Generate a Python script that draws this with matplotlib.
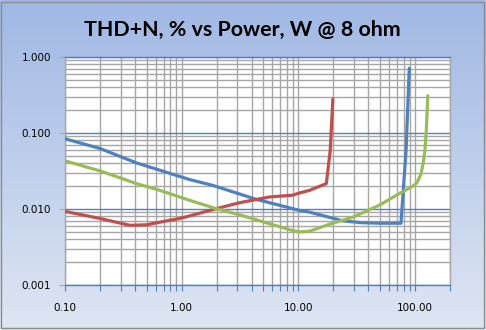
import matplotlib.pyplot as plt
import numpy as np
from matplotlib.ticker import FixedLocator, NullFormatter
from matplotlib.patches import Rectangle

# power, W  /  THD+N, %
blue_w = [0.1, 0.2, 0.41, 0.65, 1.17, 1.84, 4.36, 6.9, 10.2, 12.5, 24, 35, 50, 76, 84, 89.5]
blue_thd = [0.084, 0.0625, 0.0404, 0.0324, 0.0244, 0.0205, 0.0134, 0.0112, 0.0096, 0.0091,
            0.0070, 0.0066, 0.0065, 0.0065, 0.059, 0.71]

red_w = [0.1, 0.2, 0.36, 0.5, 0.79, 0.96, 1.17, 1.98, 3.14, 5.67, 8.98, 9.9, 12.5, 17.4, 18.8, 19.8]
red_thd = [0.0093, 0.0075, 0.0061, 0.0062, 0.0071, 0.0075, 0.0081, 0.0101, 0.0121, 0.0144, 0.0152,
           0.0160, 0.0176, 0.0216, 0.059, 0.28]

green_w = [0.1, 0.2, 0.41, 0.65, 1.17, 1.98, 3.14, 5.67, 8.98, 10.2, 12.5, 18.5, 29.3, 49.5,
           73.8, 98.9, 105, 113, 116, 119, 122, 125, 129]
green_thd = [0.043, 0.0317, 0.0216, 0.0176, 0.0130, 0.0101, 0.0084, 0.0064, 0.0052, 0.0050,
             0.0051, 0.0063, 0.0078, 0.0112, 0.0160, 0.0205, 0.0227, 0.0292, 0.036, 0.044, 0.06,
             0.1, 0.31]

x_ticks = [0.1, 1, 10, 100]
x_labels = ["0.10", "1.00", "10.00", "100.00"]
y_ticks = [0.001, 0.01, 0.1, 1]
y_labels = ["0.001", "0.010", "0.100", "1.000"]

fig = plt.figure(figsize=(4.86, 3.30), dpi=100)

# gradient background
bg = fig.add_axes([0, 0, 1, 1], zorder=0)
top = np.array([160, 184, 228]) / 255
bot = np.array([223, 230, 243]) / 255
t = np.linspace(0, 1, 256).reshape(-1, 1, 1)
grad = top * (1 - t) + bot * t
bg.imshow(grad, aspect="auto", extent=[0, 1, 0, 1])
bg.set_xlim(0, 1)
bg.set_ylim(0, 1)
bg.axis("off")
fig.patches.append(Rectangle((0.003, 0.006), 0.992, 0.988, transform=fig.transFigure,
                             fill=False, edgecolor="#8c8c8c", lw=1.0, zorder=5))

ax = fig.add_axes([65 / 486, 45 / 330, 385 / 486, 228 / 330], zorder=1)
ax.set_facecolor("white")
ax.set_xscale("log")
ax.set_yscale("log")
ax.set_xlim(0.1, 200)
ax.set_ylim(0.001, 1)

gray = "#a6a6a6"
blue_axis = "#4f81bd"

ax.xaxis.set_major_locator(FixedLocator(x_ticks))
ax.set_xticklabels(x_labels)
xminor = [m * 10.0 ** d for d in range(-1, 3) for m in range(2, 10) if m * 10.0 ** d <= 200]
ax.xaxis.set_minor_locator(FixedLocator(xminor))
ax.xaxis.set_minor_formatter(NullFormatter())

ax.yaxis.set_major_locator(FixedLocator(y_ticks))
ax.set_yticklabels(y_labels)
yminor = [m * 10.0 ** d for d in range(-3, 0) for m in range(2, 10)]
ax.yaxis.set_minor_locator(FixedLocator(yminor))
ax.yaxis.set_minor_formatter(NullFormatter())

ax.xaxis.grid(True, which="both", color=gray, lw=1.0)
ax.yaxis.grid(True, which="minor", color=gray, lw=1.0)
ax.yaxis.grid(True, which="major", color=blue_axis, lw=1.0)
ax.set_axisbelow(True)

ax.tick_params(axis="x", which="both", length=4, width=0.8, color=blue_axis, pad=9, labelsize=7.5)
ax.tick_params(axis="y", which="major", length=4, width=0.8, color=gray, pad=6, labelsize=7.5)
ax.tick_params(axis="y", which="minor", length=0)

ax.spines["bottom"].set_color(blue_axis)
ax.spines["top"].set_color(blue_axis)
ax.spines["left"].set_color(gray)
ax.spines["right"].set_color(gray)
for s in ax.spines.values():
    s.set_linewidth(1.0)

ax.plot(blue_w, blue_thd, color="#4f81bd", lw=2.3, solid_capstyle="round", solid_joinstyle="round", zorder=3)
ax.plot(red_w, red_thd, color="#c0504d", lw=2.3, solid_capstyle="round", solid_joinstyle="round", zorder=3)
ax.plot(green_w, green_thd, color="#9bbb59", lw=2.3, solid_capstyle="round", solid_joinstyle="round", zorder=3)

fig.text(0.498, 1 - 30 / 330, "THD+N, % vs Power, W @ 8 ohm", ha="center", va="center",
         fontsize=15.4, fontweight="bold", family="Lato")

fig.savefig("out.png", dpi=100)
